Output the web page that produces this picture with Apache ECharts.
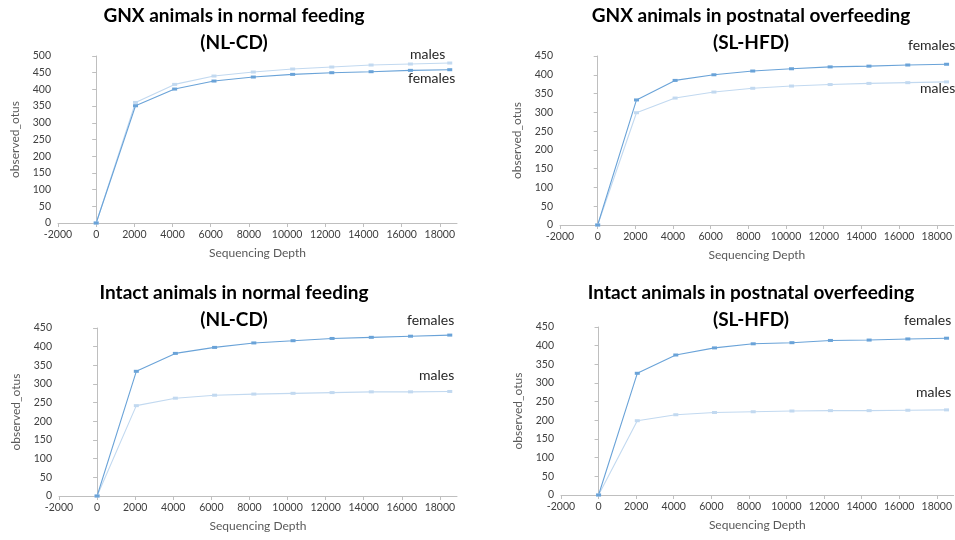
<!DOCTYPE html>
<html>
<head>
<meta charset="utf-8">
<script src="https://cdn.jsdelivr.net/npm/echarts@6/dist/echarts.min.js"></script>
<style>html,body{margin:0;padding:0;background:#fff}#c{width:955px;height:540px}</style>
</head>
<body>
<div id="c"></div>
<script>
// Sequencing depths (x values)
const depth = [0, 2060, 4110, 6170, 8230, 10290, 12340, 14400, 16460, 18520];

// Panel titles
const titles = [
  "GNX animals in normal feeding\n(NL-CD)",
  "GNX animals in postnatal overfeeding\n(SL-HFD)",
  "Intact animals in normal feeding\n(NL-CD)",
  "Intact animals in postnatal overfeeding\n(SL-HFD)"
];

// observed_otus values
const gnxNormalMales     = [0, 361, 415, 440, 452, 461, 467, 473, 476, 479];
const gnxNormalFemales   = [0, 351, 401, 425, 437, 445, 450, 453, 457, 459];
const gnxOverMales       = [0, 299, 338, 354, 364, 370, 374, 377, 379, 381];
const gnxOverFemales     = [0, 333, 385, 400, 410, 416, 421, 423, 426, 428];
const intactNormalMales  = [0, 242, 262, 270, 273, 275, 277, 279, 279, 280];
const intactNormalFemales= [0, 334, 382, 398, 410, 416, 422, 425, 428, 431];
const intactOverMales    = [0, 199, 215, 221, 223, 225, 226, 226, 227, 228];
const intactOverFemales  = [0, 326, 375, 394, 405, 408, 414, 415, 418, 420];

// Axis settings
const xTicks = { min: -2000, max: 18900, interval: 2000 };
const yMax = [500, 450, 450, 450];

const FEMALE = '#6aa3d8';
const MALE = '#c2d9f0';
const FONT = 'Lato';

const pairs = [
  [gnxNormalMales, gnxNormalFemales],
  [gnxOverMales, gnxOverFemales],
  [intactNormalMales, intactNormalFemales],
  [intactOverMales, intactOverFemales]
];

const grids = [
  { left: 58, top: 56, width: 399, height: 167 },
  { left: 560, top: 56, right: -5, height: 169 },
  { left: 59, top: 328, width: 398, height: 168 },
  { left: 561, top: 327, right: -5, height: 168 }
];

const titleCenters = [[234, 2], [751, 2], [234, 279], [751, 279]];

const toXY = arr => arr.map((v, i) => [depth[i], v]);

const xAxes = grids.map((g, i) => ({
  type: 'value', gridIndex: i, min: xTicks.min, max: xTicks.max, interval: xTicks.interval,
  name: 'Sequencing Depth', nameLocation: 'middle', nameGap: 24,
  nameTextStyle: { fontFamily: FONT, fontSize: 12, color: '#595959' },
  axisLine: { show: true, lineStyle: { color: '#bfbfbf', width: 1 } },
  axisTick: { show: true, length: 4, lineStyle: { color: '#bfbfbf' } },
  axisLabel: { fontFamily: FONT, fontSize: 10.5, color: '#404040', margin: 6, showMaxLabel: false,
    formatter: v => String(v) },
  splitLine: { show: false }
}));

const yAxes = grids.map((g, i) => ({
  type: 'value', gridIndex: i, min: 0, max: yMax[i], interval: 50,
  name: 'observed_otus', nameLocation: 'middle', nameGap: 37,
  nameTextStyle: { fontFamily: FONT, fontSize: 12, color: '#595959' },
  axisLine: { show: true, lineStyle: { color: '#bfbfbf', width: 1 } },
  axisTick: { show: true, length: 4, lineStyle: { color: '#bfbfbf' } },
  axisLabel: { fontFamily: FONT, fontSize: 10.5, color: '#404040', margin: 7 },
  splitLine: { show: false }
}));

const series = [];
pairs.forEach((p, i) => {
  series.push({
    type: 'line', name: 'males', xAxisIndex: i, yAxisIndex: i, data: toXY(p[0]),
    symbol: 'rect', symbolSize: [5, 3], showSymbol: true,
    lineStyle: { color: MALE, width: 1.1 }, itemStyle: { color: MALE }
  });
  series.push({
    type: 'line', name: 'females', xAxisIndex: i, yAxisIndex: i, data: toXY(p[1]),
    symbol: 'rect', symbolSize: [5, 3], showSymbol: true,
    lineStyle: { color: FEMALE, width: 1.1 }, itemStyle: { color: FEMALE }
  });
});

const labelStyle = { fontFamily: FONT, fontSize: 14, fill: '#262626' };
const seriesLabels = [
  ['males', 410, 47], ['females', 408, 71],
  ['females', 908, 38], ['males', 920, 81],
  ['females', 407, 313], ['males', 419, 368],
  ['females', 904, 313], ['males', 916, 385]
];

const chart = echarts.init(document.getElementById('c'), null, { renderer: 'canvas' });
chart.setOption({
  animation: false,
  backgroundColor: '#ffffff',
  title: titles.map((t, i) => ({
    text: t, left: titleCenters[i][0], top: titleCenters[i][1], textAlign: 'center', padding: 0,
    textStyle: { fontFamily: FONT, fontSize: 19, fontWeight: 'bold', color: '#000', lineHeight: 27 }
  })),
  grid: grids,
  xAxis: xAxes,
  yAxis: yAxes,
  series: series,
  graphic: seriesLabels.map(l => ({
    type: 'text', left: l[1], top: l[2], silent: true,
    style: Object.assign({ text: l[0] }, labelStyle)
  }))
});
</script>
</body>
</html>
